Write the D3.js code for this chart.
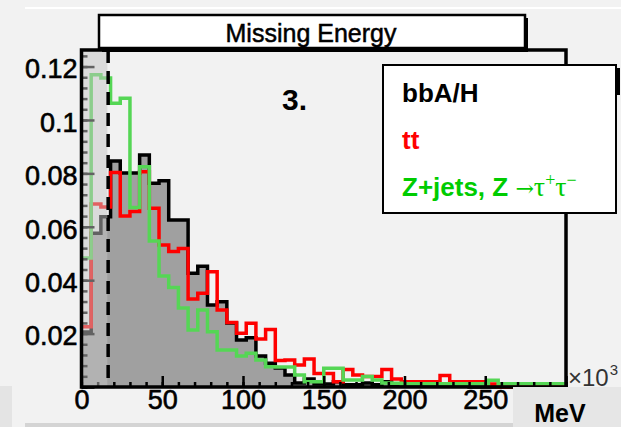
<!DOCTYPE html>
<html>
<head>
<meta charset="utf-8">
<script src="https://cdn.jsdelivr.net/npm/d3@7/dist/d3.min.js"></script>
<style>
	body { margin: 0; background: #f2f2f2; }
	svg { display: block; font-family: 'Liberation Sans', Arial, sans-serif; }
</style>
</head>
<body>
<div id="vis"></div>
<script>
// bins of 6 (x10^3 MeV) from 0 to 300, normalised
var binWidth = 6;

var bbAH = [0.0206, 0.0576, 0.0638, 0.0846, 0.0801, 0.0801, 0.0869, 0.0763, 0.0772, 0.0625,
	0.0625, 0.0426, 0.0452, 0.0307, 0.0319, 0.0240, 0.0176, 0.0184, 0.0116, 0.0089,
	0.0071, 0.0045, 0.0015, 0.0030, 0.0011, 0.0011, 0.0020, 0.0008, 0.0008, 0.0015,
	0.0008, 0.0020, 0.0005, 0.0005, 0.0005, 0.0005, 0.0005, 0.0005, 0.0005, 0.0005,
	0, 0, 0, 0, 0, 0, 0, 0, 0, 0];

var ttbar = [0.0226, 0.0685, 0.0674, 0.0803, 0.0640, 0.0657, 0.0806, 0.0669, 0.0532, 0.0507,
	0.0519, 0.0330, 0.0351, 0.0432, 0.0288, 0.0242, 0.0201, 0.0239, 0.0180, 0.0215,
	0.0099, 0.0101, 0.0082, 0.0105, 0.0051, 0.0051, 0.0020, 0.0066, 0.0045, 0.0039,
	0.0039, 0.0066, 0.0030, 0.0020, 0.0020, 0.0020, 0.0020, 0.0043, 0.0020, 0.0020,
	0.0020, 0.0020, 0.0011, 0, 0, 0, 0, 0, 0, 0];

var zjets = [0.0483, 0.1169, 0.1157, 0.1063, 0.1081, 0.0672, 0.0825, 0.0547, 0.0416, 0.0373,
	0.0296, 0.0213, 0.0288, 0.0207, 0.0139, 0.0139, 0.0116, 0.0126, 0.0101, 0.0076,
	0.0075, 0.0075, 0.0045, 0.0020, 0.0020, 0.0070, 0.0070, 0.0026, 0.0026, 0.0039,
	0.0026, 0.0015, 0.0014, 0.0012, 0.0012, 0.0012, 0.0012, 0.0012, 0.0012, 0.0012,
	0.0012, 0.0012, 0.0025, 0.0012, 0.0012, 0.0012, 0.0012, 0.0012, 0.0012, 0.0012];

var xMajor = [0, 50, 100, 150, 200, 250, 300];
var xLabels = ['0', '50', '100', '150', '200', '250', ''];
var yMajor = [0, 0.02, 0.04, 0.06, 0.08, 0.1, 0.12];
var yLabels = ['', '0.02', '0.04', '0.06', '0.08', '0.1', '0.12'];
var legendNames = ['bbA/H', 'tt', 'Z+jets, Z '];
var legendColors = ['#000000', '#ff0000', '#00cc00'];
var shadeTo = 16,
	cutAt = 16.5;

var width = 621,
	height = 427;

var svg = d3.select('#vis')
	.append('svg')
	.attr('width', width)
	.attr('height', height);

svg.append('rect')
	.attr('width', width)
	.attr('height', height)
	.attr('fill', '#f2f2f2');

// bits of the surrounding canvas
svg.append('rect').attr('x', 25).attr('y', 7).attr('width', 596).attr('height', 2).attr('fill', '#ffffff');
svg.append('rect').attr('x', 0).attr('y', 386).attr('width', 12).attr('height', 41).attr('fill', '#e4e4e4');
svg.append('rect').attr('x', 25).attr('y', 423).attr('width', 490).attr('height', 4).attr('fill', '#d4d4d4');

var x = d3.scaleLinear()
	.domain([0, 300])
	.range([81.5, 566]);

var y = d3.scaleLinear()
	.domain([0, 0.1262])
	.range([387, 50]);

var steps = function(vals) {
	var pts = vals.map(function(v, i) { return [i * binWidth, v]; });
	pts.push([vals.length * binWidth, vals[vals.length - 1]]);
	return pts;
};

var area = d3.area()
	.x(function(d) { return x(d[0]); })
	.y0(y(0))
	.y1(function(d) { return y(d[1]); })
	.curve(d3.curveStepAfter);

var line = d3.line()
	.x(function(d) { return x(d[0]); })
	.y(function(d) { return y(d[1]); })
	.curve(d3.curveStepAfter);

var g = svg.append('g');

g.append('path')
	.attr('d', area(steps(bbAH)))
	.attr('fill', '#a0a0a0');

g.append('path')
	.attr('d', line(steps(bbAH)))
	.attr('fill', 'none')
	.attr('stroke', '#000')
	.attr('stroke-width', 3.5);

g.append('path')
	.attr('d', line(steps(ttbar)))
	.attr('fill', 'none')
	.attr('stroke', '#ff0000')
	.attr('stroke-width', 3.5);

g.append('path')
	.attr('d', line(steps(zjets)))
	.attr('fill', 'none')
	.attr('stroke', '#55d655')
	.attr('stroke-width', 3.5);

// ticks (under the shaded cut region)
var xMinorAxis = g.append('g')
	.attr('transform', 'translate(0,' + y(0) + ')')
	.call(d3.axisBottom(x).tickValues(d3.range(0, 301, 10)).tickSize(-5).tickFormat(''));

var xAxis = g.append('g')
	.attr('transform', 'translate(0,' + y(0) + ')')
	.call(d3.axisBottom(x).tickValues(xMajor).tickSize(-11)
		.tickFormat(function(d, i) { return xLabels[i]; }));

var yMinorAxis = g.append('g')
	.attr('transform', 'translate(' + x(0) + ',0)')
	.call(d3.axisLeft(y).tickValues(d3.range(0, 0.125, 0.004)).tickSize(-6).tickFormat(''));

var yAxis = g.append('g')
	.attr('transform', 'translate(' + x(0) + ',0)')
	.call(d3.axisLeft(y).tickValues(yMajor).tickSize(-13).tickPadding(4)
		.tickFormat(function(d, i) { return yLabels[i]; }));

[xMinorAxis, xAxis, yMinorAxis, yAxis].forEach(function(a) {
	a.select('.domain').remove();
	a.selectAll('line').attr('stroke', '#000').attr('stroke-width', 2.5);
});

xAxis.selectAll('text')
	.attr('y', 3)
	.attr('dy', '0.71em')
	.attr('font-size', 27)
	.attr('font-family', "'Liberation Sans', Arial, sans-serif")
	.attr('fill', '#000')
	.attr('stroke', '#000')
	.attr('stroke-width', 0.6);

yAxis.selectAll('text')
	.attr('dy', '0.42em')
	.attr('font-size', 27)
	.attr('font-family', "'Liberation Sans', Arial, sans-serif")
	.attr('fill', '#000')
	.attr('stroke', '#000')
	.attr('stroke-width', 0.6);

// shaded region below the cut
g.append('rect')
	.attr('x', x(0))
	.attr('y', y.range()[1])
	.attr('width', x(shadeTo) - x(0))
	.attr('height', y(0) - y.range()[1])
	.attr('fill', '#c4c4c4')
	.attr('opacity', 0.5);

g.append('line')
	.attr('x1', x(cutAt))
	.attr('x2', x(cutAt))
	.attr('y1', y.range()[1])
	.attr('y2', y(0))
	.attr('stroke', '#000')
	.attr('stroke-width', 3.5)
	.attr('stroke-dasharray', '13,8');

// frame
g.append('rect')
	.attr('x', x(0))
	.attr('y', y.range()[1])
	.attr('width', x(300) - x(0))
	.attr('height', y(0) - y.range()[1])
	.attr('fill', 'none')
	.attr('stroke', '#000')
	.attr('stroke-width', 3.5);

// title box
svg.append('rect')
	.attr('x', 102).attr('y', 18).attr('width', 426).attr('height', 34)
	.attr('fill', '#000');
svg.append('rect')
	.attr('x', 99).attr('y', 15).attr('width', 426).attr('height', 33)
	.attr('fill', '#fff')
	.attr('stroke', '#000')
	.attr('stroke-width', 2.5);
svg.append('text')
	.attr('x', 311)
	.attr('y', 42)
	.attr('text-anchor', 'middle')
	.attr('font-size', 25)
	.attr('stroke', '#000')
	.attr('stroke-width', 0.5)
	.text('Missing Energy');

svg.append('text')
	.attr('x', 282)
	.attr('y', 110)
	.attr('font-size', 30)
	.attr('font-weight', 'bold')
	.text('3.');

// legend
svg.append('rect')
	.attr('x', 616).attr('y', 68).attr('width', 4).attr('height', 27)
	.attr('fill', '#000');
svg.append('rect')
	.attr('x', 383).attr('y', 65).attr('width', 233).attr('height', 148)
	.attr('fill', '#fff')
	.attr('stroke', '#000')
	.attr('stroke-width', 2);

var legend = svg.append('g')
	.attr('font-size', 26)
	.attr('font-weight', 'bold')
  .selectAll('text')
  .data(legendNames)
  .enter().append('text')
	.attr('x', 402)
	.attr('y', function(d, i) { return 102 + i * 47; })
	.attr('fill', function(d, i) { return legendColors[i]; })
	.text(function(d) { return d; });

var zText = d3.select(legend.nodes()[2]);
zText.append('tspan')
	.attr('font-family', "'DejaVu Serif', serif")
	.attr('font-weight', 'normal')
	.attr('font-size', 22)
	.text('\u2192');
zText.append('tspan')
	.attr('font-family', "'Liberation Serif', 'DejaVu Serif', serif")
	.attr('font-weight', 'normal')
	.attr('font-size', 28)
	.text('\u03c4');
zText.append('tspan')
	.attr('font-family', "'Liberation Serif', 'DejaVu Serif', serif")
	.attr('font-weight', 'normal')
	.attr('font-size', 18)
	.attr('dy', -10)
	.text('+');
zText.append('tspan')
	.attr('font-family', "'Liberation Serif', 'DejaVu Serif', serif")
	.attr('font-weight', 'normal')
	.attr('font-size', 28)
	.attr('dy', 10)
	.text('\u03c4');
zText.append('tspan')
	.attr('font-family', "'Liberation Serif', 'DejaVu Serif', serif")
	.attr('font-weight', 'normal')
	.attr('font-size', 18)
	.attr('dy', -10)
	.text('\u2212');

// axis exponent and unit
var expo = svg.append('text')
	.attr('x', 568)
	.attr('y', 386)
	.attr('font-size', 24)
	.attr('fill', '#333')
	.text('\u00d710');
expo.append('tspan')
	.attr('font-size', 15)
	.attr('dx', 1)
	.attr('dy', -11)
	.text('3');

svg.append('rect')
	.attr('x', 513).attr('y', 387).attr('width', 108).attr('height', 40)
	.attr('fill', '#e6e6e6');
svg.append('text')
	.attr('x', 560)
	.attr('y', 422)
	.attr('text-anchor', 'middle')
	.attr('font-size', 25)
	.attr('font-weight', 'bold')
	.text('MeV');
</script>
</body>
</html>
